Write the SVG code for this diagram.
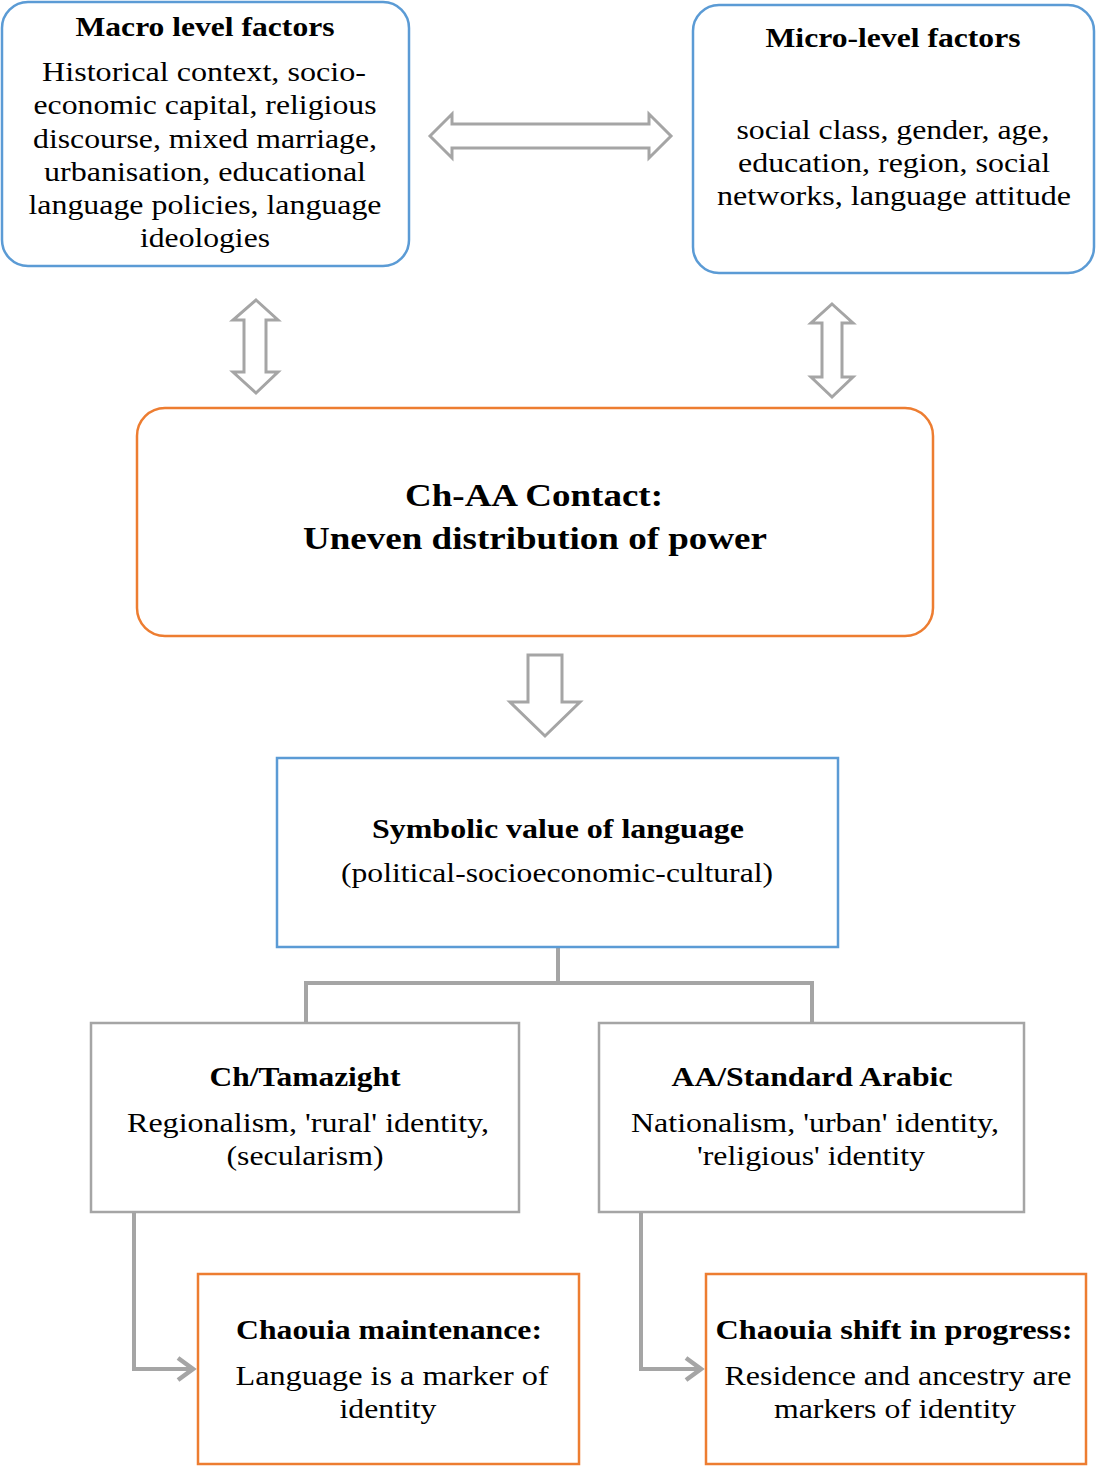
<svg xmlns="http://www.w3.org/2000/svg" width="1096" height="1466" viewBox="0 0 1096 1466">
<defs>
<style>
text{font-family:'Liberation Serif',Tinos,'Times New Roman',Times,serif;font-size:28px;fill:#000;text-anchor:middle}
.b{font-weight:bold}
.big{font-size:32px}
.blue{fill:#fff;stroke:#5B9BD5;stroke-width:2.5}
.orange{fill:#fff;stroke:#ED7D31;stroke-width:2.5}
.gray{fill:#fff;stroke:#A5A5A5;stroke-width:2.5}
.blk{fill:#fff;stroke:#A5A5A5;stroke-width:3;stroke-linejoin:miter}
.con{fill:none;stroke:#A5A5A5;stroke-width:4}
</style>
<marker id="chev" markerUnits="userSpaceOnUse" markerWidth="30" markerHeight="30" viewBox="-20 -15 30 30" refX="0" refY="0" orient="auto">
<path d="M-16,-11 L-1,0 L-16,11" fill="none" stroke="#A5A5A5" stroke-width="4.5"/>
</marker>
</defs>
<rect width="1096" height="1466" fill="#fff"/>

<g id="connectors">
<polygon class="blk" points="430,136 452,114 452,124 649,124 649,114 671,136 649,158 649,148 452,148 452,158"/>
<polygon class="blk" points="256,300 278,320 266,320 266,372 278,372 256,393 233,372 244,372 244,320 233,320"/>
<polygon class="blk" points="832,304 853,323 842,323 842,377 853,377 832,397 811,377 822,377 822,323 811,323"/>
<polygon class="blk" points="528,655 562,655 562,702 580,702 545,736 510,702 528,702"/>
<path class="con" d="M558,947 V983 M306,1023 V983 H812 V1023"/>
<path class="con" d="M134,1212 V1369 H194" marker-end="url(#chev)"/>
<path class="con" d="M641,1212 V1369 H702" marker-end="url(#chev)"/>
</g>

<g id="macro" font-family="Liberation Serif, serif">
<rect class="blue" x="2" y="2" width="407" height="264" rx="26"/>
<text class="b" x="205" y="36" textLength="259" lengthAdjust="spacingAndGlyphs">Macro level factors</text>
<text x="204" y="81" textLength="324" lengthAdjust="spacingAndGlyphs">Historical  context, socio-</text>
<text x="205" y="114" textLength="343" lengthAdjust="spacingAndGlyphs">economic capital,  religious</text>
<text x="205" y="148" textLength="344" lengthAdjust="spacingAndGlyphs">discourse, mixed marriage,</text>
<text x="205" y="181" textLength="322" lengthAdjust="spacingAndGlyphs">urbanisation, educational</text>
<text x="205" y="214" textLength="353" lengthAdjust="spacingAndGlyphs">language policies,  language</text>
<text x="205" y="247" textLength="130" lengthAdjust="spacingAndGlyphs">ideologies</text>
</g>

<g id="micro">
<rect class="blue" x="693" y="5" width="401" height="268" rx="26"/>
<text class="b" x="893" y="47" textLength="255" lengthAdjust="spacingAndGlyphs">Micro-level factors</text>
<text x="893" y="139" textLength="313" lengthAdjust="spacingAndGlyphs">social class, gender, age,</text>
<text x="894" y="172" textLength="312" lengthAdjust="spacingAndGlyphs">education, region, social</text>
<text x="894" y="205" textLength="354" lengthAdjust="spacingAndGlyphs">networks, language attitude</text>
</g>

<g id="contact">
<rect class="orange" x="137" y="408" width="796" height="228" rx="28"/>
<text class="b big" x="534" y="506" textLength="258" lengthAdjust="spacingAndGlyphs">Ch-AA Contact:</text>
<text class="b big" x="535" y="549" textLength="464" lengthAdjust="spacingAndGlyphs">Uneven distribution  of power</text>
</g>

<g id="symbolic">
<rect class="blue" x="277" y="758" width="561" height="189"/>
<text class="b" x="558" y="838" textLength="372" lengthAdjust="spacingAndGlyphs">Symbolic value of language</text>
<text x="557" y="882" textLength="432" lengthAdjust="spacingAndGlyphs">(political-socioeconomic-cultural)</text>
</g>

<g id="tamazight">
<rect class="gray" x="91" y="1023" width="428" height="189"/>
<text class="b" x="305" y="1086" textLength="191" lengthAdjust="spacingAndGlyphs">Ch/Tamazight</text>
<text x="308" y="1132" textLength="362" lengthAdjust="spacingAndGlyphs">Regionalism, 'rural'  identity,</text>
<text x="305" y="1165" textLength="157" lengthAdjust="spacingAndGlyphs">(secularism)</text>
</g>

<g id="arabic">
<rect class="gray" x="599" y="1023" width="425" height="189"/>
<text class="b" x="812" y="1086" textLength="281" lengthAdjust="spacingAndGlyphs">AA/Standard Arabic</text>
<text x="815" y="1132" textLength="368" lengthAdjust="spacingAndGlyphs">Nationalism, 'urban' identity,</text>
<text x="811" y="1165" textLength="228" lengthAdjust="spacingAndGlyphs">'religious'  identity</text>
</g>

<g id="maintenance">
<rect class="orange" x="198" y="1274" width="381" height="190"/>
<text class="b" x="389" y="1339" textLength="306" lengthAdjust="spacingAndGlyphs">Chaouia  maintenance:</text>
<text x="392" y="1385" textLength="313" lengthAdjust="spacingAndGlyphs">Language is a marker of</text>
<text x="388" y="1418" textLength="97" lengthAdjust="spacingAndGlyphs">identity</text>
</g>

<g id="shift">
<rect class="orange" x="706" y="1274" width="380" height="190"/>
<text class="b" x="894" y="1339" textLength="357" lengthAdjust="spacingAndGlyphs">Chaouia  shift in progress:</text>
<text x="898" y="1385" textLength="347" lengthAdjust="spacingAndGlyphs">Residence and ancestry are</text>
<text x="895" y="1418" textLength="242" lengthAdjust="spacingAndGlyphs">markers of identity</text>
</g>
</svg>
